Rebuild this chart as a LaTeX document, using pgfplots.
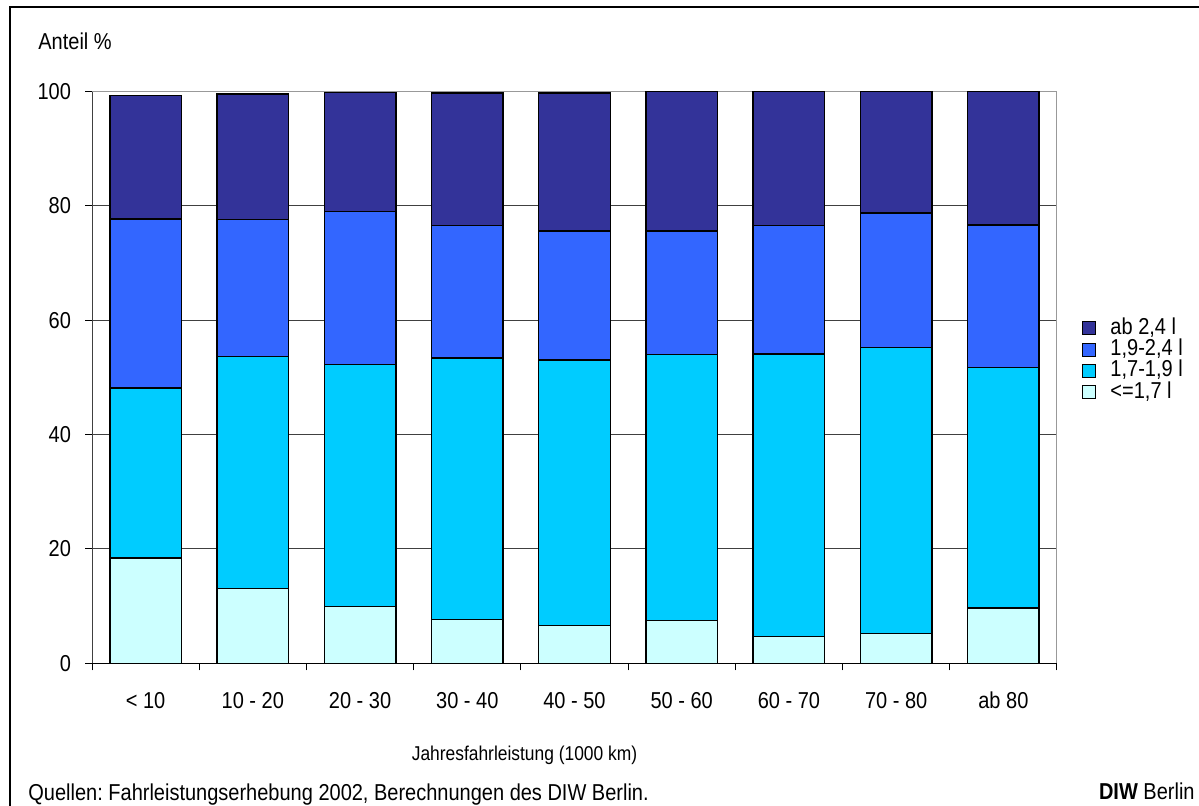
\documentclass[border=0pt]{standalone}
\usepackage{pgfplots}
\pgfplotsset{compat=1.18}
\usepackage{fontspec}
\setmainfont{Liberation Sans}
\definecolor{cDark}{HTML}{333399}
\definecolor{cBlue}{HTML}{3366FF}
\definecolor{cCyan}{HTML}{00CCFF}
\definecolor{cLight}{HTML}{CCFFFF}
\definecolor{cGrid}{HTML}{404040}
\definecolor{cBorder}{HTML}{999999}
\newcommand\vs[1]{\scalebox{1}[1.15]{#1}}
\frenchspacing
\begin{document}
\fontsize{10}{12}\selectfont
\begin{tikzpicture}
\useasboundingbox (0,0) rectangle (599.5pt,402.5pt);
\draw[line width=1pt] (5pt,-5pt) -- (5pt,399pt) -- (610pt,399pt);
\begin{axis}[
  at={(46pt,70.85pt)}, anchor=south west,
  scale only axis, width=482.5pt, height=286pt,
  xmin=-0.5, xmax=8.5, ymin=0, ymax=100,
  ybar stacked, bar width=0.667,
  axis x line*=bottom, axis y line*=left,
  x axis line style={black, line width=0.75pt, -},
  y axis line style={cGrid, line width=0.5pt, -},
  ytick={0,20,40,60,80,100},
  yticklabel={\vs{\pgfmathprintnumber{\tick}}},
  yticklabel style={xshift=-3.5pt},
  ymajorgrids, grid style={cGrid, line width=0.5pt},
  tick align=outside, major tick length=3.5pt,
  tick style={black, line width=0.5pt},
  xtick={-0.5,0.5,...,8.5}, xticklabels={},
  extra x ticks={0,1,2,3,4,5,6,7,8},
  extra x tick labels={\vs{< 10}, \vs{10 - 20}, \vs{20 - 30}, \vs{30 - 40}, \vs{40 - 50}, \vs{50 - 60}, \vs{60 - 70}, \vs{70 - 80}, \vs{ab 80}},
  extra x tick style={major tick length=0pt, xticklabel style={anchor=north, text height=8.6pt, text depth=0.5pt, yshift=-10.5pt}},
  ticklabel style={font=\fontsize{10}{12}\selectfont},
  /pgf/number format/assume math mode=true,
  legend image code/.code={\draw[#1, draw=black, line width=0.5pt] (0pt,-3.25pt) rectangle (6.5pt,3.25pt);},
  reverse legend,
  legend cell align=left,
  legend style={draw=none, fill=none, at={(1.026,0.530)}, anchor=west,
    inner xsep=0pt, inner ysep=0pt, row sep=2.4pt,
    font=\fontsize{10}{12}\selectfont,
    nodes={inner sep=0pt, text height=7.2pt, text depth=1pt},
    /tikz/every even column/.append style={column sep=0pt}},
]
\addplot+[fill=cLight, draw=black, line width=0.75pt] coordinates {(0,18.4) (1,13.1) (2,9.9) (3,7.7) (4,6.6) (5,7.5) (6,4.7) (7,5.2) (8,9.7)};
\addlegendentry{\hspace{7pt}\vs{<=1,7 l}}
\addplot+[fill=cCyan, draw=black, line width=0.75pt] coordinates {(0,29.7) (1,40.5) (2,42.3) (3,45.7) (4,46.4) (5,46.5) (6,49.4) (7,50.0) (8,42.0)};
\addlegendentry{\hspace{7pt}\vs{1,7-1,9 l}}
\addplot+[fill=cBlue, draw=black, line width=0.75pt] coordinates {(0,29.6) (1,24.0) (2,26.8) (3,23.1) (4,22.6) (5,21.6) (6,22.4) (7,23.5) (8,24.9)};
\addlegendentry{\hspace{7pt}\vs{1,9-2,4 l}}
\addplot+[fill=cDark, draw=black, line width=0.75pt] coordinates {(0,21.6) (1,21.9) (2,20.8) (3,23.2) (4,24.1) (5,24.4) (6,23.5) (7,21.3) (8,23.4)};
\addlegendentry{\hspace{7pt}\vs{ab 2,4 l}}
\draw[cBorder, line width=0.75pt] (rel axis cs:0,1) -- (rel axis cs:1,1) -- (rel axis cs:1,0);
\end{axis}
\node[anchor=base west, inner sep=0pt] at (19pt,377.5pt) {\vs{Anteil \%}};
\node[anchor=base, inner sep=0pt, font=\fontsize{8.7}{10}\selectfont] at (262.25pt,22.5pt) {\vs{Jahresfahrleistung (1000 km)}};
\node[anchor=base west, inner sep=0pt] at (14pt,2.5pt) {\vs{Quellen: Fahrleistungserhebung 2002, Berechnungen des DIW Berlin.}};
\node[anchor=base east, inner sep=0pt] at (597.5pt,3pt) {\vs{\textbf{DIW} Berlin}};
\end{tikzpicture}
\end{document}
